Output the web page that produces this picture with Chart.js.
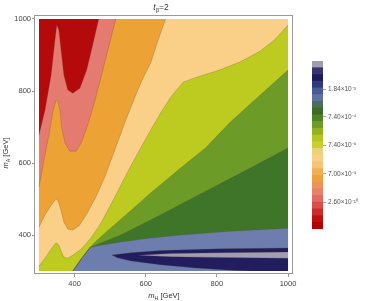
<!DOCTYPE html>
<html><head><meta charset="utf-8">
<script src="https://cdn.jsdelivr.net/npm/chart.js@4/dist/chart.umd.min.js"></script>
<style>
html,body{margin:0;padding:0;background:#fff;width:374px;height:301px;overflow:hidden}
#main{position:absolute;left:0;top:0}
#bar{position:absolute;left:300px;top:55px}
</style>
</head><body>
<canvas id="main" width="374" height="301"></canvas>
<canvas id="bar" width="74" height="185"></canvas>
<script>
// ---- data (GeV) ----
const plotMin = 300, plotMax = 1000;
const xTicks = [400, 600, 800, 1000];
const yTicks = [400, 600, 800, 1000];

// contour boundaries (m_H, m_A)
const curveRedSalmon = [{x:300,y:678},{x:317,y:747},{x:334,y:844},{x:345,y:942},{x:350,y:983},{x:356,y:969},{x:362,y:914},{x:370,y:844},{x:381,y:803},{x:395,y:794},{x:415,y:808},{x:434,y:858},{x:451,y:928},{x:468,y:1000}];
const curveSalmonOrange = [{x:300,y:533},{x:314,y:608},{x:328,y:678},{x:339,y:742},{x:348,y:775},{x:353,y:772},{x:359,y:747},{x:364,y:697},{x:373,y:656},{x:387,y:633},{x:404,y:633},{x:420,y:658},{x:437,y:706},{x:454,y:761},{x:471,y:825},{x:490,y:900},{x:516,y:1000}];
const curveOrangePeach = [{x:300,y:422},{x:317,y:456},{x:334,y:483},{x:348,y:500},{x:353,y:497},{x:362,y:469},{x:370,y:436},{x:381,y:417},{x:395,y:414},{x:412,y:425},{x:434,y:458},{x:460,y:506},{x:485,y:561},{x:516,y:644},{x:544,y:719},{x:572,y:789},{x:594,y:839},{x:614,y:878},{x:633,y:936},{x:656,y:1000}];
const curvePeachYellow = [{x:300,y:314},{x:317,y:336},{x:334,y:361},{x:345,y:375},{x:350,y:378},{x:356,y:372},{x:362,y:356},{x:370,y:339},{x:381,y:336},{x:395,y:344},{x:418,y:361},{x:446,y:392},{x:474,y:433},{x:516,y:511},{x:552,y:581},{x:586,y:642},{x:614,y:692},{x:642,y:739},{x:670,y:783},{x:706,y:825},{x:754,y:842},{x:801,y:856},{x:866,y:881},{x:922,y:911},{x:964,y:944},{x:1000,y:983}];
const curveYellowGreen = [{x:1000,y:858},{x:922,y:789},{x:838,y:714},{x:768,y:642},{x:698,y:586},{x:614,y:517},{x:544,y:456},{x:488,y:408},{x:455,y:378},{x:444,y:366},{x:418,y:333},{x:395,y:300}];
const curveGreenDark = [{x:1000,y:642},{x:894,y:586},{x:754,y:514},{x:614,y:442},{x:530,y:400},{x:474,y:378},{x:444,y:366},{x:418,y:333},{x:395,y:300}];
const curveDarkSlate = [{x:1000,y:419},{x:838,y:411},{x:698,y:400},{x:614,y:392},{x:530,y:381},{x:474,y:372},{x:444,y:366},{x:418,y:333},{x:395,y:300}];
const curveNavyLens = [{x:1000,y:364},{x:810,y:362},{x:642,y:357},{x:558,y:351},{x:505,y:345},{x:520,y:337},{x:560,y:328},{x:640,y:318},{x:740,y:309},{x:850,y:302},{x:900,y:300},{x:1000,y:300}];
const curveGrayLens = [{x:1000,y:353},{x:810,y:351},{x:670,y:349},{x:580,y:344},{x:670,y:340},{x:810,y:338},{x:1000,y:336}];

// colour bar
const legendColors = ['#B00000','#BE0E0E','#CD2A2A','#DA4E4A','#E46A62','#E8806A','#EC9458','#EEA23E','#F1B050','#F6C478','#F8CF88','#EBD27A','#C9CF2C','#B5C61C','#93B222','#6E9A26','#4F8425','#3B6B24','#4E6E5A','#6070A4','#4A5A96','#2E3A7E','#1E1B5C','#3A3572','#A29CAF'];
const legendTickPos = [3.97, 8.21, 12.46, 16.7, 20.8];
const legendTickLabels = ['2.60\u00d710\u207b\u00b9\u2070','7.00\u00d710\u207b\u2079','7.40\u00d710\u207b\u2076','7.40\u00d710\u207b\u2074','1.84\u00d710\u207b\u00b3'];

// ---- build ----
const TR = {x:plotMax,y:plotMax}, BR = {x:plotMax,y:plotMin}, BL = {x:plotMin,y:plotMin}, TL = {x:plotMin,y:plotMax};
const regions = [
  {pts:[BL,TL,TR,BR], color:'#B40A0C'},
  {pts:curveRedSalmon.concat([TR,BR,BL]), color:'#E57A71'},
  {pts:curveSalmonOrange.concat([TR,BR,BL]), color:'#ECA235'},
  {pts:curveOrangePeach.concat([TR,BR,BL]), color:'#FAD089'},
  {pts:curvePeachYellow.concat([BR,BL]), color:'#BDCB20'},
  {pts:curveYellowGreen.concat([BR]), color:'#6C9B27'},
  {pts:curveGreenDark.concat([BR]), color:'#3F7528'},
  {pts:curveDarkSlate.concat([BR]), color:'#6C7DAE'},
  {pts:curveNavyLens, color:'#211D5E'},
  {pts:curveGrayLens, color:'#A39DB1'}
];
const contourLines = [curveRedSalmon,curveSalmonOrange,curveOrangePeach,curvePeachYellow,curveYellowGreen,curveGreenDark,curveDarkSlate,curveNavyLens.slice(0,10),curveGrayLens];

const datasets = [];
regions.forEach((r,i)=>{
  datasets.push({data:r.pts, fill:'shape', backgroundColor:r.color, borderWidth:0, borderColor:'rgba(0,0,0,0)', pointRadius:0, tension:0, order:100-i});
});
contourLines.forEach(c=>{
  datasets.push({data:c, fill:false, borderColor:'rgba(90,70,50,0.4)', borderWidth:0.6, pointRadius:0, tension:0, order:0});
});

const font = "'Liberation Sans', Arial, sans-serif";

const decor = {
  id:'decor',
  afterDraw(chart){
    const {ctx, chartArea:a} = chart;
    ctx.save();
    ctx.strokeStyle = '#9a9a9a'; ctx.lineWidth = 1;
    ctx.strokeRect(a.left+0.5, a.top+0.5, a.right-a.left-1, a.bottom-a.top-1);
    ctx.fillStyle = '#333';
    ctx.textBaseline = 'alphabetic';
    const drawSub = (x, y, main, sub, rest, size) => {
      ctx.font = 'italic ' + size + 'px ' + font;
      const w1 = ctx.measureText(main).width;
      ctx.font = (size*0.7) + 'px ' + font;
      const w2 = ctx.measureText(sub).width;
      ctx.font = size + 'px ' + font;
      const w3 = ctx.measureText(rest).width;
      let cx = x - (w1+w2+w3)/2;
      ctx.font = 'italic ' + size + 'px ' + font; ctx.fillText(main, cx, y); cx += w1;
      ctx.font = (size*0.7) + 'px ' + font; ctx.fillText(sub, cx, y + size*0.25); cx += w2;
      ctx.font = size + 'px ' + font; ctx.fillText(rest, cx, y);
    };
    drawSub(161, 10, 't', '\u03b2', '=2', 8.5);
    drawSub(164, 298, 'm', 'H', ' [GeV]', 7.5);
    ctx.translate(8, 153); ctx.rotate(-Math.PI/2);
    drawSub(0, 0, 'm', 'A', ' [GeV]', 7.5);
    ctx.restore();
  }
};

new Chart(document.getElementById('main'), {
  type:'line',
  data:{datasets},
  options:{
    responsive:false, animation:false, devicePixelRatio:1,
    layout:{padding:{left:0, top:15, right:81, bottom:0}},
    plugins:{legend:{display:false}, tooltip:{enabled:false}},
    scales:{
      x:{type:'linear', min:286, max:1014,
        afterBuildTicks:s=>{s.ticks = xTicks.map(v=>({value:v}));},
        afterFit:s=>{s.height = 27;},
        grid:{drawOnChartArea:false, tickLength:3, color:'#999'},
        border:{display:false},
        ticks:{color:'#444', font:{size:7.5, family:font}, padding:2, maxRotation:0, callback:v=>String(v)}},
      y:{type:'linear', min:292, max:1011,
        afterBuildTicks:s=>{s.ticks = yTicks.map(v=>({value:v}));},
        afterFit:s=>{s.width = 34;},
        grid:{drawOnChartArea:false, tickLength:2, color:'#999'},
        border:{display:false},
        ticks:{color:'#444', font:{size:7.5, family:font}, padding:1, callback:v=>String(v)}}
    }
  },
  plugins:[decor]
});

new Chart(document.getElementById('bar'), {
  type:'bar',
  data:{labels:['v'], datasets:legendColors.map(c=>({data:[1], backgroundColor:c, borderWidth:0, barPercentage:1, categoryPercentage:1}))},
  options:{
    responsive:false, animation:false, devicePixelRatio:1,
    layout:{padding:{left:12, top:6, right:0, bottom:11}},
    plugins:{legend:{display:false}, tooltip:{enabled:false}},
    scales:{
      x:{stacked:true, display:false},
      y:{stacked:true, position:'right', min:0, max:legendColors.length,
        afterBuildTicks:s=>{s.ticks = legendTickPos.map(v=>({value:v}));},
        afterFit:s=>{s.width = 51;},
        grid:{drawOnChartArea:false, tickLength:3, color:'#aaa'},
        border:{display:false},
        ticks:{color:'#555', font:{size:6.5, family:font}, padding:2,
          callback:(v,i)=>legendTickLabels[i]}}
    }
  }
});
</script>
</body></html>
